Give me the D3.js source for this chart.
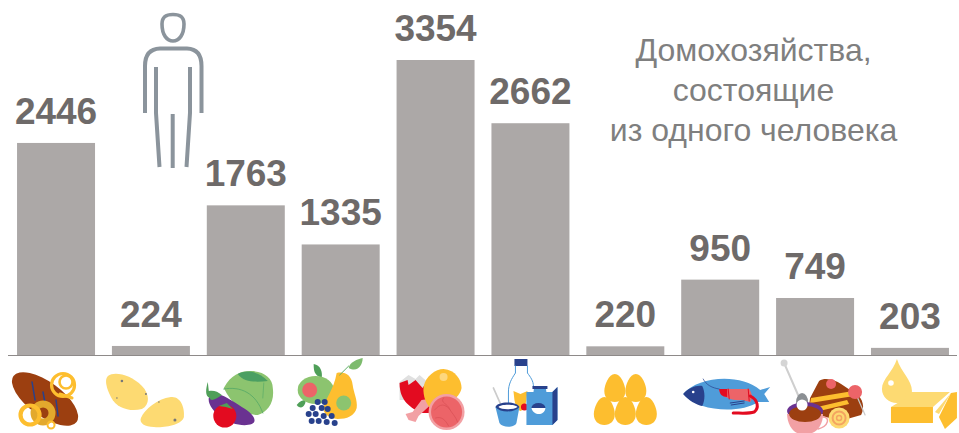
<!DOCTYPE html>
<html><head><meta charset="utf-8">
<script src="https://cdn.jsdelivr.net/npm/d3@7/dist/d3.min.js"></script>
<style>html,body{margin:0;padding:0;background:#fff}svg{display:block}text{font-family:"Liberation Sans",Arial,sans-serif}</style>
</head><body><svg id="c" width="959" height="433"></svg>
<script>
const categories=["Хлеб","Картофель","Овощи","Фрукты","Мясо","Молоко","Яйца","Рыба","Сладости","Масло"];
const values=[2446,224,1763,1335,3354,2662,220,950,749,203];
const titleLines=["Домохозяйства,","состоящие","из одного человека"];

const svg=d3.select("#c");
const x=d3.scaleBand().domain(categories).range([8.5,957.5]).paddingInner(0.178).paddingOuter(0.09);
const y=d3.scaleLinear().domain([125,3354]).range([355,60]);

svg.selectAll("rect.bar").data(values).join("rect").attr("class","bar")
  .attr("x",(d,i)=>x(categories[i])).attr("width",x.bandwidth())
  .attr("y",d=>y(d)).attr("height",d=>y(125)-y(d)).attr("fill","#aca8a7");
svg.append("line").attr("x1",8).attr("x2",957).attr("y1",355.5).attr("y2",355.5).attr("stroke","#8e8a89").attr("stroke-width",1.2);
svg.selectAll("text.val").data(values).join("text").attr("class","val")
  .attr("x",(d,i)=>x(categories[i])+x.bandwidth()/2).attr("y",d=>y(d)-19)
  .attr("text-anchor","middle").attr("font-size",37).attr("font-weight","bold").attr("fill","#6e6a69").text(d=>d);
svg.append("g").selectAll("text").data(titleLines).join("text")
  .attr("x",753.5).attr("y",(d,i)=>61+i*40).attr("text-anchor","middle").attr("font-size",32).attr("fill","#7f7f7f").text(d=>d);

// person pictogram
const p=svg.append("g").attr("fill","none").attr("stroke","#8b949c").attr("stroke-width",4);
p.append("path").attr("d","M162,24 C162,16 167,14.5 173,14.5 C179,14.5 184,16 184,24 C184,35 179,41 173,41 C167,41 162,35 162,24Z").attr("stroke-width",3.6);
p.append("path").attr("d","M145,113 V66 Q145,49 160,48.5 H187 Q201.5,49 201.5,66 V113");
p.append("path").attr("d","M156,67 V113 L159.5,167");
p.append("path").attr("d","M190,67 V113 L186.5,167");
p.append("path").attr("d","M172.7,114 V168");

// small food icons, each drawn around its category centre
const icon=c=>svg.append("g").attr("transform",`translate(${x(c)+x.bandwidth()/2},0)`);
const ring=(g,cx,cy,r,w,col)=>g.append("circle").attr("cx",cx).attr("cy",cy).attr("r",r).attr("fill","none").attr("stroke",col).attr("stroke-width",w);
const dot=(g,cx,cy,r,col)=>g.append("circle").attr("cx",cx).attr("cy",cy).attr("r",r).attr("fill",col);
const path=(g,d,col)=>g.append("path").attr("d",d).attr("fill",col);
const line=(g,d,col,w)=>g.append("path").attr("d",d).attr("fill","none").attr("stroke",col).attr("stroke-width",w).attr("stroke-linecap","round");
const GOLD="#fdbe2f",PALE="#fdda72",BLUE="#4f9cd9",NAVY="#28418c",RED="#e30b20",PINK="#ec6468",GREEN="#8cc46f",BROWN="#9c3f10";

// bread
let g=icon(categories[0]);
g.append("ellipse").attr("cx",-11).attr("cy",399).attr("rx",39).attr("ry",17).attr("transform","rotate(36 -11 399)").attr("fill",BROWN);
line(g,"M-24,382 L-21,400",NAVY,1.5);line(g,"M-13,392 L-11,403",NAVY,1.5);line(g,"M0,400 L2,416",NAVY,1.5);
ring(g,7,385,11.5,3.2,GOLD);ring(g,10,382,6.5,2.6,GOLD);line(g,"M4,394 L16,398",GOLD,3);
ring(g,-13,413,9,7,"#e3a92d");ring(g,-26,415,9.5,4.2,GOLD);ring(g,-5,425,3.5,2,GOLD);

// potato
g=icon(categories[1]);
path(g,"M-43,376 C-36,371 -20,375 -9,386 C-1,394 -1,405 -9,409 C-20,412 -34,409 -40,397 C-44,389 -47,380 -43,376Z",PALE);
path(g,"M-10,418 C-6,409 6,399 20,397 C30,396 34,408 33,417 C31,425 14,428 3,427 C-6,427 -12,423 -10,418Z",PALE);
dot(g,-29,381,1.3,"#777");dot(g,-5,394,1,"#777");dot(g,-34,398,.8,"#777");dot(g,8,402,.8,"#777");dot(g,24,420,1.5,"#777");

// vegetables
g=icon(categories[2]);
path(g,"M-22,388 C-15,375 -6,371 5,371 C18,371 27,378 27,388 C29,402 22,412 12,415 C0,415 -14,405 -22,388Z",GREEN);
path(g,"M-8,374 C-2,370 12,370 22,381 C12,382 -2,383 -8,374Z","#4b9f62");
line(g,"M-22,389 C-5,386 10,393 17,413","#5fae68",1);line(g,"M18,383 L17,398","#5fae68",.8);
path(g,"M-37,398 C-30,389 -18,398 -4,407 C8,414 12,421 6,424 C-2,427 -16,424 -25,417 C-33,411 -38,404 -37,398Z","#6a3291");
path(g,"M-38,382 L-37,391 C-33,390 -28,391 -24,395 C-30,399 -35,402 -36,398 C-41,396 -40,389 -38,382Z","#4f9f58");
dot(g,-21,416,11.5,RED);path(g,"M-27,406 L-19,403 L-13,409 L-20,407Z","#4f9f58");

// fruit
g=icon(categories[3]);
path(g,"M-27,364 C-27,370 -27,375 -19,378 C-18,372 -20,365 -27,364Z","#4f9f58");
path(g,"M-44,405 C-41,401 -38,400 -35,400 C-35,405 -39,411 -44,405Z","#4f9f58");
g.append("ellipse").attr("cx",-25).attr("cy",390).attr("rx",18).attr("ry",14).attr("fill",GREEN);dot(g,-31,390,7.5,PINK);
path(g,"M-4,373 C4,371 11,375 12,385 C13,393 17,400 16,408 C14,416 6,419 -3,419 C-12,418 -18,414 -17,407 C-15,398 -7,390 -4,373Z",GOLD);
dot(g,3,403,7.5,GREEN);
line(g,"M-1,375 L8,366","#5fae68",1);
path(g,"M8,368 C9,362 17,359 22,358 C22,365 17,373 8,368Z","#7dbb6d");
[[-23,402],[-28,408],[-32,414],[-25,414],[-29,421],[-22,421],[-16,402],[-19,408],[-13,409],[-17,416],[-9,416],[-14,422],[-6,423]].forEach(([a,b])=>dot(g,a,b,3,NAVY));

// meat
g=icon(categories[4]);
path(g,"M-27,375 L-20,379 L-16,375 L-8,382 L-8,388 V400 H-36 V382Z","#e0e0e0");
path(g,"M-36,383 L-28,380 L-27,385 L-20,380 L-13,388 L-9,382 L-3,386 V413 L-14,413 C-24,408 -36,402 -36,383Z",RED);
path(g,"M-14,400 L-7,399 L-4,404 L-17,416 L-20,422 L-27,420 L-30,414 L-23,412Z","#f2a0a4");
path(g,"M-12,387 C-10,376 0,369 8,369 C20,370 26,380 26,388 C24,399 12,404 -3,410 C-9,406 -13,396 -12,387Z",GOLD);
dot(g,8,377,4,"#fdd77f");
dot(g,11,412,18,"#f2a0a4");dot(g,11,412,15.5,PINK);
line(g,"M-1,410 C5,403 9,404 14,409 C16,413 20,416 22,422","#d94f55",.7);
line(g,"M8,398 C4,403 12,403 14,409 M0,418 C6,416 10,420 13,426","#d94f55",.7);

// dairy
g=icon(categories[5]);
path(g,"M-16,359 H-3 V366 H-16Z",NAVY);
path(g,"M-15,366 H-3 V373 C1,378 3,383 3,391 V422 H-22 V391 C-22,382 -15,378 -15,372Z","#fff");
line(g,"M-15,366 V373 C-19,379 -22,384 -22,392 V420 M-3,366 V373 C0,377 3,381 3,386",BLUE,1);
path(g,"M-17,391 L-10,394 L-3,391 L-4,400 L-6,409 L-10,411 L-14,409 L-16,400Z",GOLD);
dot(g,-6,407,3.5,RED);
path(g,"M-4,392 L22,392 L27,387 L27,420 L22,425 H-4Z",BLUE);path(g,"M22,392 L27,387 V420 L22,425Z",NAVY);
path(g,"M3,392 L4,386 L15,386 L16,392Z",BLUE);path(g,"M2,389 H17 V386 H2Z",NAVY);
path(g,"M1,408 A7,5 0 0 1 15,408 Z",NAVY);path(g,"M1,408 H15 C14,416 3,416 1,408Z","#fff");
line(g,"M-37,388 L-29,406","#ccc",1.8);
path(g,"M-35,407 H-11 L-14,423 C-16,428 -28,428 -31,423Z",BLUE);
path(g,"M-35,407 C-33,401 -14,401 -11,407 C-16,413 -30,413 -35,407Z",NAVY);
path(g,"M-32,407 C-30,404 -15,404 -13,407 C-17,410 -29,410 -32,407Z","#fff");

// eggs
g=icon(categories[6]);
const egg=(cx,cy)=>path(g,`M${cx},${cy-14} C${cx+6},${cy-14} ${cx+10.5},${cy-3} ${cx+10.5},${cy+3} C${cx+10.5},${cy+10} ${cx+6},${cy+14} ${cx},${cy+14} C${cx-6},${cy+14} ${cx-10.5},${cy+10} ${cx-10.5},${cy+3} C${cx-10.5},${cy-3} ${cx-6},${cy-14} ${cx},${cy-14}Z`,GOLD);
egg(-10.5,388);egg(10.5,388);egg(-21,411);egg(0,411);egg(21,411);

// fish
g=icon(categories[7]);
path(g,"M-37,394 C-22,376 20,373 40,390 L50,387 L44,394 L49,402 L38,402 C20,414 -22,412 -37,394Z",BLUE);
path(g,"M-37,394 C-32,388 -24,385 -18,386 C-15,392 -15,400 -18,406 C-24,405 -32,400 -37,394Z",NAVY);
dot(g,-27,392,1.3,"#fff");
path(g,"M-1,389 H29 C33,395 32,399 30,402 L22,400 C12,401 0,397 -1,389Z",PINK);
path(g,"M-1,389 H7 V397 C2,397 -1,394 -1,389Z",RED);
line(g,"M8,389 L9,399 M28,389 L29,401",RED,1);
line(g,"M30,396 C38,400 39,408 34,412 C28,414 20,413 13,413",RED,3);
line(g,"M-17,379 C-14,385 -8,388 -1,389",NAVY,.7);
line(g,"M10,403 L24,401 M11,405 L24,403",NAVY,1);

// sweets
g=icon(categories[8]);
line(g,"M-31,363 L-17,395","#cfcfcf",2);dot(g,-31,363,3.5,"#d5d5d5");
g.append("ellipse").attr("cx",-13).attr("cy",402).attr("rx",6).attr("ry",9).attr("fill","#8b8f93");
path(g,"M-5,398 L4,381 C10,377 20,380 26,384 L41,394 C48,398 50,408 46,415 L25,421 L-7,412Z",BROWN);
dot(g,16,384,5,PINK);
path(g,"M-4,398 L38,391 L39,396 L-5,403Z",GOLD);path(g,"M-2,408 L32,400 L34,404 L0,412Z",GOLD);
line(g,"M40,392 L50,415","#c8c8c8",1.2);dot(g,40,392,7,PINK);
g.append("ellipse").attr("cx",-10).attr("cy",411).attr("rx",18).attr("ry",9).attr("fill","#6a3291");
path(g,"M-28,414 H8 C8,423 3,431 -3,433 H-18 C-23,431 -28,423 -28,414Z","#f2a0a4");
g.append("ellipse").attr("cx",-10).attr("cy",414).attr("rx",16).attr("ry",8).attr("fill",BROWN);
dot(g,-13,405,5.5,"#fff");
line(g,"M8,417 C15,417 14,426 3,429","#f2a0a4",1.5);
dot(g,24,418,10.5,PALE);ring(g,24,418,6.5,2,"#f4a460");ring(g,24,418,2.5,1.5,"#f4a460");

// butter
g=icon(categories[9]);
path(g,"M-13,359 C-9,372 2,380 2,391 C2,398 -6,403 -13,403 C-21,403 -28,397 -28,389 C-28,379 -17,372 -13,359Z",PALE);
dot(g,-19,383,2.8,"#fff");
path(g,"M-5,392 H40 L23,407 H-19 L-4,398Z",PALE);
path(g,"M-19,407 H23 V423 H-19Z",GOLD);
path(g,"M41,393 L47,392 V418 L35,429 L29,417Z",GOLD);
path(g,"M41,393 L29,414 L25,412Z",PALE);
</script></body></html>
